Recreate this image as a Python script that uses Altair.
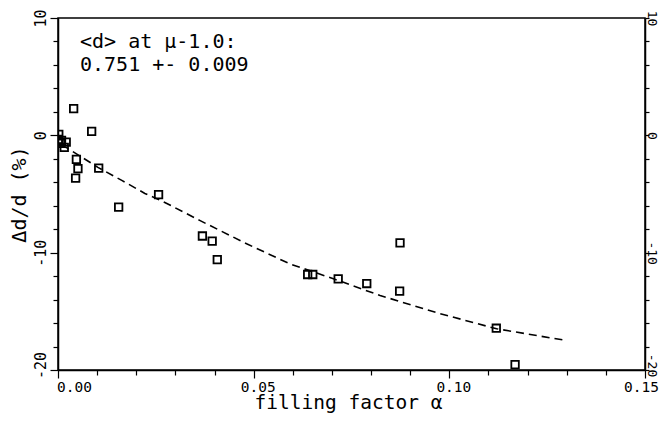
import altair as alt
import pandas as pd

# measured points: filling factor alpha vs relative change (%)
alpha_pts = [0.0040, 0.0086, 0.0002, 0.0002, 0.0021, 0.0016, 0.0001, 0.0007, 0.0009,
             0.0047, 0.0051, 0.0045, 0.0104, 0.0257, 0.0155, 0.0369, 0.0394, 0.0407,
             0.0638, 0.0651, 0.0716, 0.0789, 0.0874, 0.0873, 0.1120, 0.1168]
dd_pts = [2.28, 0.34, 0.09, -0.57, -0.57, -1.02, -0.34, -0.68, -0.43,
          -2.05, -2.84, -3.64, -2.79, -5.06, -6.12, -8.58, -9.02, -10.6,
          -11.86, -11.86, -12.23, -12.63, -9.17, -13.28, -16.44, -19.54]

# dashed model curve
curve_alpha = [0.0009, 0.0025, 0.0102, 0.0163, 0.0222, 0.0273, 0.0362, 0.0482,
               0.0592, 0.0702, 0.0823, 0.0976, 0.1121, 0.1300]
curve_dd = [-0.85, -1.11, -2.73, -3.84, -4.95, -5.72, -7.25, -9.24,
            -10.95, -12.2, -13.65, -15.19, -16.49, -17.49]

x_ticks = [0.00, 0.01, 0.02, 0.03, 0.04, 0.05, 0.06, 0.07, 0.08, 0.09,
           0.10, 0.11, 0.12, 0.13, 0.14, 0.15]
y_ticks = [-20, -18, -16, -14, -12, -10, -8, -6, -4, -2, 0, 2, 4, 6, 8, 10]

annotation = ["<d> at μ-1.0:", "0.751 +- 0.009"]

pts = pd.DataFrame({"alpha": alpha_pts, "dd": dd_pts})
crv = pd.DataFrame({"alpha": curve_alpha, "dd": curve_dd})

FONT = "DejaVu Sans Mono"

xscale = alt.Scale(domain=[0, 0.15], nice=False, zero=False)
yscale = alt.Scale(domain=[-20, 10], nice=False, zero=False)

x_axis = alt.Axis(
    values=x_ticks,
    labelExpr="round(datum.value*100) % 5 === 0 ? format(datum.value, '.2f') : ''",
    title="filling factor α",
    titleFont=FONT, titleFontSize=19.5, titleFontWeight="normal", titleColor="black",
    titleX=290, titleY=38.5, titleBaseline="alphabetic",
    labelFont=FONT, labelFontSize=14.5, labelColor="black", labelPadding=2,
    labelFlush=False,
    labelOffset={"condition": [{"test": "datum.value < 0.001", "value": 16},
                               {"test": "datum.value > 0.149", "value": -4}],
                 "value": 4},
    tickSize={"condition": {"test": "round(datum.value*100) % 5 === 0", "value": 8}, "value": 5},
    tickColor="black", tickWidth=1.2, domainColor="black", domainWidth=1.5,
    grid=False, labelOverlap=False,
)

left_axis = alt.Axis(
    orient="left",
    values=y_ticks,
    labelExpr="datum.value % 10 === 0 ? '' + datum.value : ''",
    labelAngle=270, labelAlign="center", labelBaseline="bottom",
    labelFont=FONT, labelFontSize=15, labelColor="black", labelPadding=2,
    labelFlush=False,
    labelOffset={"condition": {"test": "datum.value === -20", "value": -5}, "value": 0},
    tickSize={"condition": {"test": "datum.value % 10 === 0", "value": 8}, "value": 5},
    tickColor="black", tickWidth=1.2, domainColor="black", domainWidth=1.5,
    grid=False, labelOverlap=False,
    title="Δd/d (%)",
    titleFont=FONT, titleFontSize=20, titleFontWeight="normal", titleColor="black",
    titleAngle=270, titleX=-39, titleY=176, titleBaseline="middle", titleAlign="center",
)

right_axis = alt.Axis(
    orient="right",
    values=y_ticks,
    labelExpr="datum.value % 10 === 0 ? '' + datum.value : ''",
    labelAngle=90, labelAlign="center", labelBaseline="alphabetic",
    labelFont=FONT, labelFontSize=13, labelColor="black", labelPadding=-2,
    labelFlush=False,
    labelOffset={"condition": {"test": "datum.value === -20", "value": -5}, "value": 0},
    tickSize=4,
    tickColor="black", tickWidth=1.2, domainColor="black", domainWidth=1.5,
    grid=False, labelOverlap=False, title=None,
)

points = alt.Chart(pts).mark_point(
    shape="square", filled=False, size=56, color="black", strokeWidth=1.8,
    opacity=1, clip=True
).encode(
    x=alt.X("alpha:Q", scale=xscale, axis=x_axis),
    y=alt.Y("dd:Q", scale=yscale, axis=left_axis),
)

line = alt.Chart(crv).mark_line(
    color="black", strokeDash=[8, 5], strokeWidth=1.6
).encode(
    x=alt.X("alpha:Q", scale=xscale, axis=x_axis),
    y=alt.Y("dd:Q", scale=yscale, axis=right_axis),
)

text = alt.Chart(pd.DataFrame({"t": [0]})).mark_text(
    align="left", baseline="alphabetic", font=FONT, fontSize=20,
    lineHeight=23, color="black"
).encode(
    x=alt.value(22), y=alt.value(30), text=alt.value(annotation)
)

chart = alt.layer(points, line, text).resolve_axis(y="independent").properties(
    width=587, height=352,
    padding={"left": 50, "top": 10, "right": 14, "bottom": 44},
    autosize="none",
    background="white",
).configure_view(stroke="black", strokeWidth=1.5)

chart.save("out.html", embed_options={"renderer": "svg", "actions": False})
